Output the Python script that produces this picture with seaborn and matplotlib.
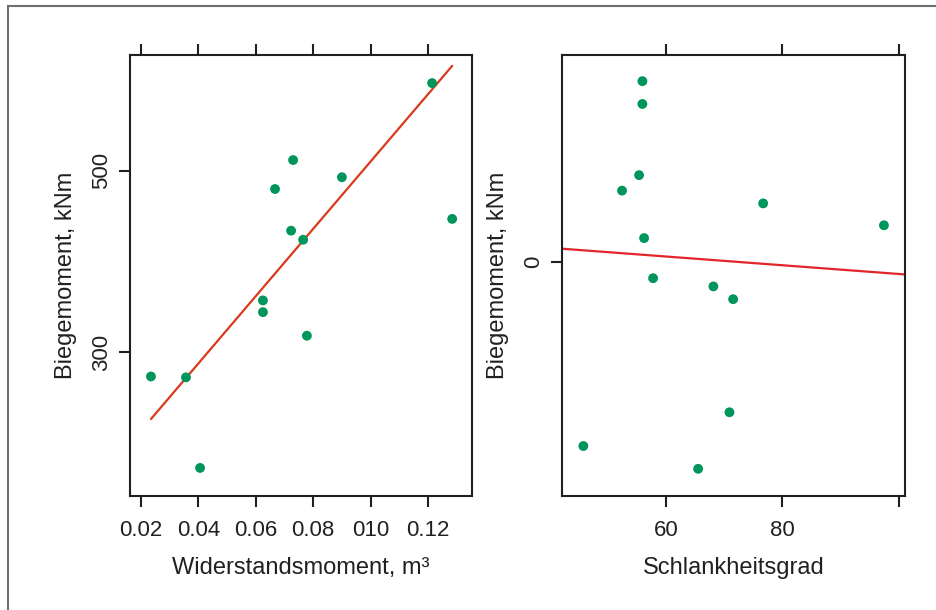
import matplotlib
matplotlib.use("Agg")
import matplotlib.pyplot as plt
import seaborn as sns
import pandas as pd
from matplotlib.patches import Rectangle

# ---- data: left panel (Widerstandsmoment vs Biegemoment) ----
w_moment = [0.1214, 0.0730, 0.0900, 0.0667, 0.1284, 0.0723, 0.0765,
            0.0625, 0.0625, 0.0778, 0.0235, 0.0357, 0.0406]
bm_left = [597, 512, 493, 480, 447, 434, 424, 357, 344, 318, 273, 272, 172]
fit_left_x = [0.0235, 0.1284]
fit_left_y = [226, 616]
left_xticks = [0.02, 0.04, 0.06, 0.08, 0.10, 0.12]
left_xticklabels = ["0.02", "0.04", "0.06", "0.08", "010", "0.12"]
left_yticks = [300, 500]

# ---- data: right panel (Schlankheitsgrad vs Biegemoment) ----
schlank = [55.99, 55.99, 55.42, 52.50, 76.69, 97.39, 56.28,
           57.82, 68.16, 71.54, 70.91, 45.87, 65.54]
bm_right = [198, 173, 95, 78, 64, 40, 26, -18, -27, -41, -165, -202, -227]
fit_right_x = [42.26, 101.0]
fit_right_y = [14.3, -13.9]
right_xticks = [60, 80, 100]
right_xticklabels = ["60", "80", ""]
right_yticks = [0]

df_l = pd.DataFrame({"x": w_moment, "y": bm_left})
df_r = pd.DataFrame({"x": schlank, "y": bm_right})
fit_l = pd.DataFrame({"x": fit_left_x, "y": fit_left_y})
fit_r = pd.DataFrame({"x": fit_right_x, "y": fit_right_y})

sns.set_theme(style="white")
plt.rcParams["font.family"] = ["Liberation Sans", "DejaVu Sans"]

green = "#00955a"
ink = "#231f20"
fig = plt.figure(figsize=(9.37, 6.10), dpi=100)
fig.patch.set_facecolor("white")

ax1 = fig.add_axes([130/937, 1-496/610, (472-130)/937, (496-55)/610])
ax2 = fig.add_axes([562.3/937, 1-496/610, (905-562.3)/937, (496-55)/610])

sns.lineplot(data=fit_l, x="x", y="y", ax=ax1, color="#d93a1c", lw=1.6)
sns.scatterplot(data=df_l, x="x", y="y", ax=ax1, color=green, s=50,
                edgecolor="none", zorder=3)
sns.lineplot(data=fit_r, x="x", y="y", ax=ax2, color="#e3242b", lw=1.6)
sns.scatterplot(data=df_r, x="x", y="y", ax=ax2, color=green, s=50,
                edgecolor="none", zorder=3)

ax1.set_xlim(0.0162, 0.1353)
ax1.set_ylim(141, 628)
ax2.set_xlim(42.26, 101.0)
ax2.set_ylim(-256.8, 226.7)

ax1.set_xticks(left_xticks)
ax1.set_xticklabels(left_xticklabels)
ax1.set_yticks(left_yticks)
ax1.set_yticklabels([str(v) for v in left_yticks], rotation=90, va="center")
ax2.set_xticks(right_xticks)
ax2.set_xticklabels(right_xticklabels)
ax2.set_yticks(right_yticks)
ax2.set_yticklabels([str(v) for v in right_yticks], rotation=90, va="center")

ax1.set_xlabel("Widerstandsmoment, m³", fontsize=17, color=ink, labelpad=12)
ax1.set_ylabel("Biegemoment, kNm", fontsize=17, color=ink, labelpad=10)
ax2.set_xlabel("Schlankheitsgrad", fontsize=17, color=ink, labelpad=12)
ax2.set_ylabel("Biegemoment, kNm", fontsize=17, color=ink, labelpad=10)

for ax in (ax1, ax2):
    for sp in ax.spines.values():
        sp.set_visible(True)
        sp.set_color(ink)
        sp.set_linewidth(1.5)
    ax.tick_params(axis="x", which="both", direction="out", length=8, width=1.5,
                   color=ink, labelsize=16, labelcolor=ink,
                   bottom=True, top=True, labeltop=False, pad=9)
    ax.tick_params(axis="y", which="both", direction="out", length=8, width=1.5,
                   color=ink, labelsize=16, labelcolor=ink,
                   left=True, right=False, pad=5)
    ax.grid(False)

# outer frame of the figure (only left and top visible)
fig.patches.append(Rectangle((8/937, -0.05), 1.1, 1 - 6/610 + 0.05,
                             transform=fig.transFigure, fill=False,
                             edgecolor="#6d6e70", lw=1.5))

fig.savefig("out.png", dpi=100, facecolor="white")
